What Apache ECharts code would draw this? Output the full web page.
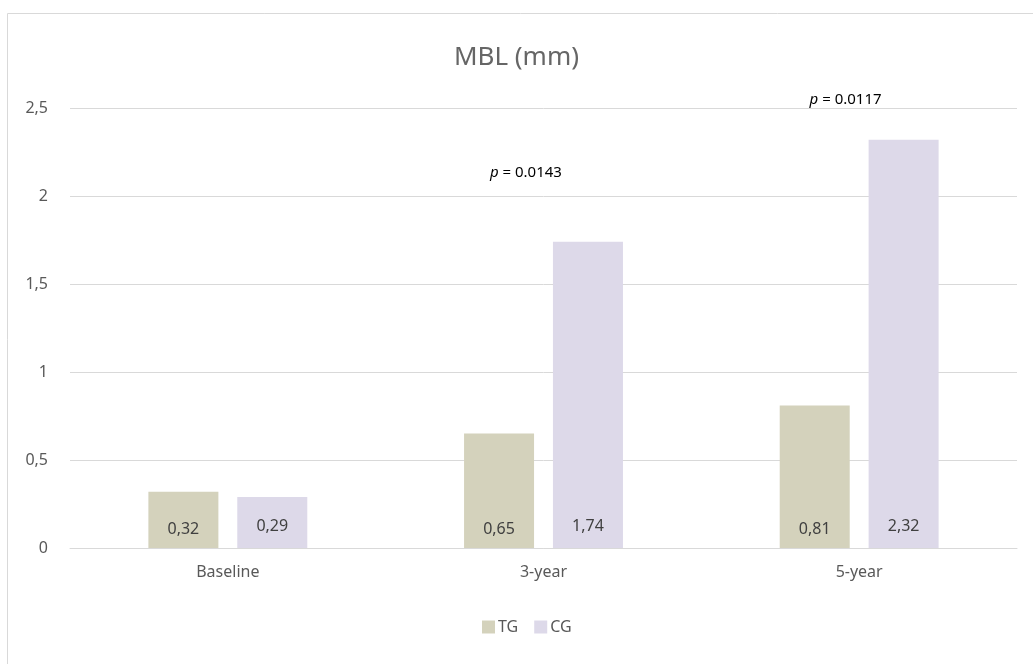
<!DOCTYPE html>
<html>
<head>
<meta charset="utf-8">
<script src="https://cdn.jsdelivr.net/npm/echarts@6/dist/echarts.min.js"></script>
<style>
  html, body { margin: 0; padding: 0; background: #fff; }
  #main { width: 1033px; height: 664px; }
</style>
</head>
<body>
<div id="main"></div>
<script>
// data
var categories = ['Baseline', '3-year', '5-year'];
var tgValues = [0.32, 0.65, 0.81];
var cgValues = [0.29, 1.74, 2.32];
// p-value notes: category, height in axis units (shown over the CG bar)
var pNotes = [
  { cat: '3-year', y: 2.13, text: '0.0143', dx: -62, dy: 0 },
  { cat: '5-year', y: 2.5, text: '0.0117', dx: -58, dy: -8 }
];

var comma = function (v) { return String(v).replace('.', ','); };
var font = 'Noto Sans';

var chart = echarts.init(document.getElementById('main'));
chart.setOption({
  animation: false,
  textStyle: { fontFamily: font },
  color: ['#d4d2bc', '#ddd9e9'],
  graphic: [{
    type: 'rect',
    shape: { x: 7.5, y: 13.5, width: 1040, height: 700 },
    style: { fill: 'none', stroke: '#d9d9d9', lineWidth: 1 },
    silent: true
  }],
  title: {
    text: 'MBL (mm)',
    left: 'center',
    top: 40,
    textStyle: { fontFamily: font, fontSize: 26, fontWeight: 'normal', color: '#666666' }
  },
  legend: {
    bottom: 24,
    left: 477,
    itemWidth: 13,
    itemHeight: 13,
    itemGap: 16,
    icon: 'rect',
    textStyle: { fontFamily: font, fontSize: 16, color: '#595959', padding: [0, 0, 0, -2] },
    data: ['TG', 'CG']
  },
  grid: { left: 70, right: 16, top: 108, bottom: 116 },
  xAxis: {
    type: 'category',
    data: categories,
    axisLine: { lineStyle: { color: '#d9d9d9' } },
    axisTick: { show: false },
    axisLabel: { color: '#595959', fontSize: 16, margin: 16 }
  },
  yAxis: {
    type: 'value',
    min: 0,
    max: 2.5,
    interval: 0.5,
    axisLine: { show: false },
    axisTick: { show: false },
    splitLine: { lineStyle: { color: '#d9d9d9' } },
    axisLabel: { color: '#595959', fontSize: 16, margin: 22, formatter: comma }
  },
  series: [
    {
      name: 'TG',
      type: 'bar',
      data: tgValues,
      barWidth: 70,
      barGap: '27%',
      label: {
        show: true,
        position: 'insideBottom',
        distance: 11,
        color: '#404040',
        fontSize: 16,
        formatter: function (p) { return comma(p.value); }
      }
    },
    {
      name: 'CG',
      type: 'bar',
      data: cgValues,
      barWidth: 70,
      label: {
        show: true,
        position: 'insideBottom',
        distance: 14,
        color: '#404040',
        fontSize: 16,
        formatter: function (p) { return comma(p.value); }
      },
      markPoint: {
        symbol: 'rect',
        symbolSize: 1,
        itemStyle: { color: 'rgba(0,0,0,0)' },
        data: pNotes.map(function (n) {
          return {
            coord: [n.cat, n.y],
            label: {
              show: true,
              position: 'inside',
              offset: [n.dx, n.dy],
              formatter: '{i|p} = ' + n.text,
              color: '#000',
              fontSize: 15,
              rich: { i: { fontStyle: 'italic', fontSize: 15, color: '#000' } }
            }
          };
        })
      }
    }
  ]
});
</script>
</body>
</html>
